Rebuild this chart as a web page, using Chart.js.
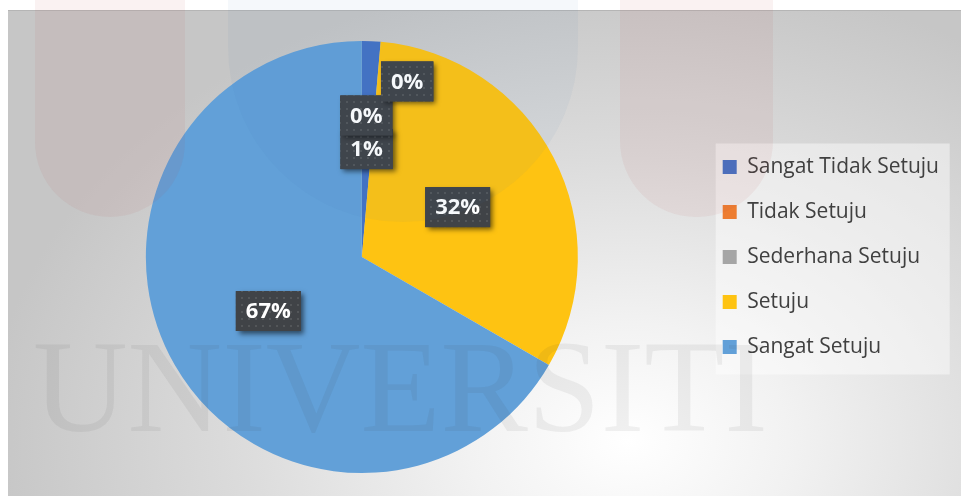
<!DOCTYPE html>
<html>
<head>
<meta charset="utf-8">
<script src="https://cdn.jsdelivr.net/npm/chart.js@4.4.1/dist/chart.umd.min.js"></script>
<style>
  html,body{margin:0;padding:0;}
  body{width:961px;height:496px;overflow:hidden;background:#fff;position:relative;}
  #bg{position:absolute;left:8px;top:11px;width:953px;height:485px;
      background:radial-gradient(ellipse 640px 470px at 620px 430px,#ffffff 0%,#f2f2f2 25%,#dcdcdc 60%,#c6c6c6 100%);
      box-shadow:0 -1px 0 #b5b5b5;}
  .wm{position:absolute;pointer-events:none;}
  #wmText{position:absolute;left:33px;top:312px;font-family:"Liberation Serif","DejaVu Serif",serif;
      font-size:131px;line-height:150px;color:rgba(60,60,60,0.07);pointer-events:none;white-space:nowrap;}
  canvas{position:absolute;left:0;top:0;}
</style>
</head>
<body>
<div id="bg"></div>
<canvas id="c" width="961" height="496"></canvas>
<div class="wm" style="left:35px;top:0;width:150px;height:217px;background:rgba(190,70,70,0.07);border-radius:0 0 75px 75px;"></div>
<div class="wm" style="left:228px;top:0;width:350px;height:222px;background:rgba(60,120,180,0.05);border-radius:0 0 175px 175px;"></div>
<div class="wm" style="left:620px;top:0;width:153px;height:217px;background:rgba(190,70,70,0.07);border-radius:0 0 76px 76px;"></div>
<div id="wmText">UNIVERSITI</div>
<script>
const categories = ["Sangat Tidak Setuju", "Tidak Setuju", "Sederhana Setuju", "Setuju", "Sangat Setuju"];
const responses = [1, 0, 0, 23, 48];
const sliceColors = ["#4472C4", "#ED7D31", "#A5A5A5", "#FEC312", "#62A0D8"];

// dotted pattern for label boxes
function makePattern(ctx) {
  const t = document.createElement('canvas');
  t.width = 7; t.height = 7;
  const c = t.getContext('2d');
  c.fillStyle = '#404347';
  c.fillRect(0, 0, 7, 7);
  c.fillStyle = 'rgba(255,255,255,0.10)';
  c.fillRect(3, 3, 2, 2);
  return ctx.createPattern(t, 'repeat');
}

const legendBgPlugin = {
  id: 'legendBg',
  beforeDraw(chart) {
    const lg = chart.legend;
    if (!lg || !lg.legendHitBoxes || !lg.legendHitBoxes.length) return;
    const hb = lg.legendHitBoxes;
    const first = hb[0], last = hb[hb.length - 1];
    const ctx = chart.ctx;
    ctx.save();
    ctx.fillStyle = 'rgba(255,255,255,0.45)';
    ctx.fillRect(first.left - 7, first.top - 13, 234, last.top + last.height - first.top + 30);
    ctx.restore();
  }
};

const labelPlugin = {
  id: 'boxLabels',
  afterDatasetsDraw(chart) {
    const ctx = chart.ctx;
    const meta = chart.getDatasetMeta(0);
    const data = chart.data.datasets[0].data;
    const total = data.reduce((a, b) => a + b, 0);
    const pat = makePattern(ctx);
    ctx.save();
    ctx.font = 'bold 22px "Open Sans", sans-serif';
    ctx.textAlign = 'center';
    ctx.textBaseline = 'middle';
    const placed = [];
    meta.data.forEach((arc, i) => {
      const txt = Math.round(data[i] / total * 100) + '%';
      const tw = ctx.measureText(txt).width;
      const w = tw + 20, h = 40;
      const p = arc.tooltipPosition();
      let x = p.x, y = p.y;
      const hits = (cx, cy) => placed.some(b =>
        Math.abs(b.x - cx) < (b.w + w) / 2 - 4 && Math.abs(b.y - cy) < (b.h + h) / 2 - 8);
      let k = 0;
      while (hits(x, y) && k < 6) {
        k++;
        x = p.x + (k >= 2 ? (k - 1) * 0.8 * w - 6 : -5);
        y = p.y - k * 0.85 * h;
      }
      placed.push({x, y, w, h});
      ctx.save();
      ctx.shadowColor = 'rgba(0,0,0,0.55)';
      ctx.shadowBlur = 5;
      ctx.shadowOffsetX = 3;
      ctx.shadowOffsetY = 3;
      ctx.fillStyle = '#404347';
      ctx.fillRect(x - w / 2, y - h / 2, w, h);
      ctx.restore();
      ctx.fillStyle = pat;
      ctx.fillRect(x - w / 2, y - h / 2, w, h);
      ctx.fillStyle = '#ffffff';
      ctx.fillText(txt, x, y + 1);
    });
    ctx.restore();
  }
};

new Chart(document.getElementById('c'), {
  type: 'pie',
  data: {
    labels: categories,
    datasets: [{
      data: responses,
      backgroundColor: sliceColors,
      borderWidth: 0
    }]
  },
  options: {
    responsive: false,
    animation: false,
    layout: { padding: { left: 25, top: 41, bottom: 23, right: 12 } },
    plugins: {
      tooltip: { enabled: false },
      legend: {
        position: 'right',
        labels: {
          boxWidth: 14,
          boxHeight: 14,
          padding: 24,
          color: '#404040',
          font: { family: '"Open Sans", sans-serif', size: 21 }
        }
      }
    }
  },
  plugins: [legendBgPlugin, labelPlugin]
});
</script>
</body>
</html>
